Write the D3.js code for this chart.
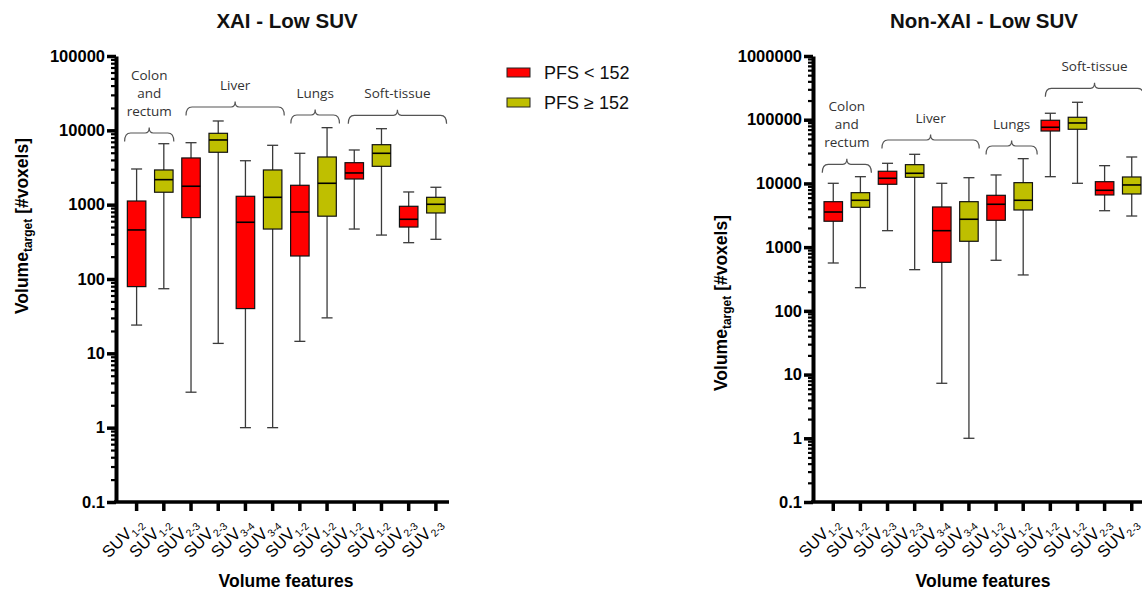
<!DOCTYPE html>
<html><head><meta charset="utf-8">
<script src="https://cdn.jsdelivr.net/npm/d3@7"></script>
<style>body{margin:0;background:#fff}</style>
</head><body>
<svg id="c" width="1142" height="592" xmlns="http://www.w3.org/2000/svg"></svg>
<script>
// ---------- data ----------
const tickBase = ["SUV","SUV","SUV","SUV","SUV","SUV","SUV","SUV","SUV","SUV","SUV","SUV"];
const tickSubs = ["1-2","1-2","2-3","2-3","3-4","3-4","1-2","1-2","1-2","1-2","2-3","2-3"];
const groups = ["PFS < 152","PFS ≥ 152","PFS < 152","PFS ≥ 152","PFS < 152","PFS ≥ 152","PFS < 152","PFS ≥ 152","PFS < 152","PFS ≥ 152","PFS < 152","PFS ≥ 152"];
const regionNames = [["Colon","and","rectum"],["Liver"],["Lungs"],["Soft-tissue"]];
const regionFirst = [0,2,6,8];
const regionLast = [1,5,7,11];

const xaiMin = [24, 74, 3, 13.6, 1, 1, 14.5, 30, 470, 390, 308, 342];
const xaiQ1  = [79, 1470, 670, 5070, 40, 470, 204, 700, 2215, 3280, 500, 773];
const xaiMed = [457, 2170, 1770, 7420, 580, 1256, 797, 1940, 2670, 4910, 636, 1012];
const xaiQ3  = [1120, 2930, 4250, 9120, 1296, 2930, 1823, 4380, 3670, 6410, 951, 1256];
const xaiMax = [3020, 6610, 6820, 13360, 3900, 6290, 4910, 10860, 5440, 10520, 1482, 1714];

const nonMin = [564, 231, 1813, 443, 7.3, 1, 622, 366, 12760, 10050, 3730, 3080];
const nonQ1  = [2550, 4220, 9700, 12480, 578, 1236, 2640, 3830, 66500, 70800, 6590, 6830];
const nonMed = [3560, 5440, 12050, 14430, 1813, 2740, 4710, 5440, 76100, 88900, 7810, 9460];
const nonQ3  = [5170, 7160, 15520, 19700, 4270, 5170, 6510, 10280, 98000, 109200, 10650, 12620];
const nonMax = [10050, 12760, 20700, 28650, 10050, 12300, 13580, 24480, 126300, 187800, 19000, 26000];

const xaiDecades = [0.1, 1, 10, 100, 1000, 10000, 100000];
const nonDecades = [0.1, 1, 10, 100, 1000, 10000, 100000, 1000000];

// ---------- layout / style ----------
const colors = {"PFS < 152": "#ff0000", "PFS ≥ 152": "#bfbf00"};
const font = "'Liberation Sans', Arial, sans-serif";
const svg = d3.select("#c");

function drawPanel(p) {
  const g = svg.append("g");
  const x = d3.scaleBand().domain(d3.range(12)).range(p.xRange);
  const y = d3.scaleLog().domain([p.decades[0], p.decades[p.decades.length-1]]).range([p.yBottom, p.yTop]);
  const bw = 18.5;

  // minor ticks
  const minor = [];
  p.decades.slice(0,-1).forEach(d => { for (let k=2;k<=9;k++) minor.push(d*k); });
  const minorAx = g.append("g").attr("transform", `translate(${p.axisX},0)`)
    .call(d3.axisLeft(y).tickValues(minor).tickSize(5).tickSizeOuter(0).tickFormat(""));
  minorAx.select(".domain").remove();
  minorAx.selectAll(".tick line").attr("stroke", "#000").attr("stroke-width", 2.2);

  const yAx = g.append("g").attr("transform", `translate(${p.axisX},0)`)
    .call(d3.axisLeft(y).tickValues(p.decades).tickSize(9).tickSizeOuter(0).tickPadding(2)
      .tickFormat(d3.format("~f")));
  yAx.select(".domain").attr("stroke", "#000").attr("stroke-width", 4);
  yAx.selectAll(".tick line").attr("stroke", "#000").attr("stroke-width", 3.5);
  yAx.selectAll(".tick text").attr("font-family", font).attr("font-weight", "bold")
    .attr("font-size", 16.5).attr("fill", "#000");

  // x axis
  g.append("line").attr("x1", p.axisX - 2).attr("x2", p.xEnd).attr("y1", p.yBottom).attr("y2", p.yBottom)
    .attr("stroke", "#000").attr("stroke-width", 3.5);
  const xt = g.selectAll(".xt").data(d3.range(12)).enter().append("g")
    .attr("transform", i => `translate(${x(i) + x.bandwidth()/2},${p.yBottom})`);
  xt.append("line").attr("y1", 0).attr("y2", 9).attr("stroke", "#000").attr("stroke-width", 3.5);
  const lab = xt.append("text").attr("transform", "translate(7,22) rotate(-45)")
    .attr("text-anchor", "end").attr("font-family", font).attr("font-size", 16.5).attr("fill", "#000");
  lab.append("tspan").text(i => tickBase[i]);
  lab.append("tspan").attr("dy", 4).attr("font-size", 10.5).text(i => tickSubs[i]);

  // boxes
  const bx = g.selectAll(".bx").data(d3.range(12)).enter().append("g")
    .attr("transform", i => `translate(${x(i) + x.bandwidth()/2},0)`);
  bx.append("line").attr("y1", i => y(p.max[i])).attr("y2", i => y(p.min[i]))
    .attr("stroke", "#3a3a3a").attr("stroke-width", 1.3);
  [p.max, p.min].forEach(arr => {
    bx.append("line").attr("x1", -5.5).attr("x2", 5.5).attr("y1", i => y(arr[i])).attr("y2", i => y(arr[i]))
      .attr("stroke", "#3a3a3a").attr("stroke-width", 1.3);
  });
  bx.append("rect").attr("x", -bw/2).attr("width", bw)
    .attr("y", i => y(p.q3[i])).attr("height", i => y(p.q1[i]) - y(p.q3[i]))
    .attr("fill", i => colors[groups[i]]).attr("stroke", "#111").attr("stroke-width", 1.2);
  bx.append("line").attr("x1", -bw/2).attr("x2", bw/2).attr("y1", i => y(p.med[i])).attr("y2", i => y(p.med[i]))
    .attr("stroke", "#000").attr("stroke-width", 1.6);

  // region brackets
  regionNames.forEach((names, r) => {
    const cx0 = x(regionFirst[r]) + x.bandwidth()/2 - p.brL[r];
    const cx1 = x(regionLast[r]) + x.bandwidth()/2 + p.brR[r];
    const hy = p.brY[r], cm = (cx0 + cx1)/2, rr = 4;
    const path = `M${cx0},${hy+8.5} Q${cx0},${hy} ${cx0+rr+2},${hy} L${cm-rr},${hy} Q${cm},${hy} ${cm},${hy-5.5} Q${cm},${hy} ${cm+rr},${hy} L${cx1-rr-2},${hy} Q${cx1},${hy} ${cx1},${hy+8.5}`;
    g.append("path").attr("d", path).attr("fill", "none").attr("stroke", "#555").attr("stroke-width", 1.2);
    names.forEach((t, k) => {
      g.append("text").attr("x", cm).attr("y", hy - 22 - (names.length-1-k)*18 + 5)
        .attr("text-anchor", "middle").attr("font-family", "'Open Sans', sans-serif")
        .attr("font-size", 13.5).attr("fill", "#333").text(t);
    });
  });

  // titles
  g.append("text").attr("x", p.titleX).attr("y", 28).attr("text-anchor", "middle")
    .attr("font-family", font).attr("font-weight", "bold").attr("font-size", 20.5).attr("fill", "#111").text(p.title);
  g.append("text").attr("x", p.xLabelX).attr("y", 587).attr("text-anchor", "middle")
    .attr("font-family", font).attr("font-weight", "bold").attr("font-size", 17.5).attr("fill", "#000").text("Volume features");
  const yl = g.append("text").attr("transform", `translate(${p.yLabelX},${p.yLabelY}) rotate(-90)`)
    .attr("text-anchor", "middle").attr("font-family", font).attr("font-weight", "bold")
    .attr("font-size", 17.5).attr("fill", "#000");
  yl.append("tspan").text("Volume");
  yl.append("tspan").attr("dy", 4).attr("font-size", 12).text("target");
  yl.append("tspan").attr("dy", -4).text(" [#voxels]");
}

drawPanel({
  title: "XAI - Low SUV", titleX: 287, xLabelX: 286, yLabelX: 28, yLabelY: 226,
  xRange: [123, 449.5], xEnd: 449, axisX: 116, yTop: 56, yBottom: 502, decades: xaiDecades,
  min: xaiMin, q1: xaiQ1, med: xaiMed, q3: xaiQ3, max: xaiMax,
  brY: [133, 107, 115, 115.3], brL: [12, 5, 9, 6], brR: [10, 11.6, 12.4, 10.7]
});
drawPanel({
  title: "Non-XAI - Low SUV", titleX: 984, xLabelX: 983, yLabelX: 727, yLabelY: 303,
  xRange: [819.7, 1145.3], xEnd: 1142, axisX: 813, yTop: 56, yBottom: 502, decades: nonDecades,
  min: nonMin, q1: nonQ1, med: nonMed, q3: nonQ3, max: nonMax,
  brY: [164.3, 140, 146, 88.3], brL: [11, 5.6, 10, 5], brR: [11, 10.3, 14, 12]
});

// legend
const legItems = ["PFS < 152", "PFS ≥ 152"];
const leg = svg.append("g").selectAll("g").data(legItems).enter().append("g")
  .attr("transform", (d, i) => `translate(507,${68 + i*30})`);
leg.append("rect").attr("width", 23).attr("height", 9).attr("fill", d => colors[d]).attr("stroke", "#222").attr("stroke-width", 1);
leg.append("text").attr("x", 37).attr("y", 10.5).attr("font-family", font).attr("font-size", 18)
  .attr("fill", "#111").text(d => d);
</script>
</body></html>
